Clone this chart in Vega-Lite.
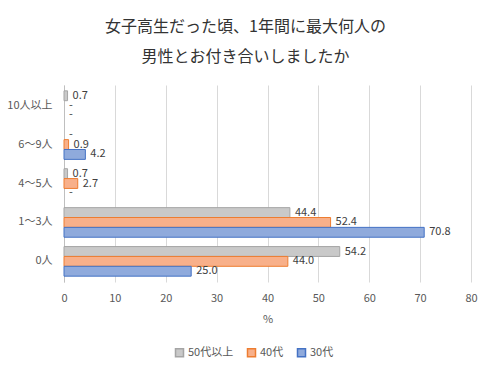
{
  "$schema": "https://vega.github.io/schema/vega-lite/v6.json",
  "width": 407,
  "height": 197,
  "autosize": {"type": "none"},
  "padding": {"left": 64, "top": 85, "right": 19, "bottom": 91},
  "background": "white",
  "title": {
    "text": ["女子高生だった頃、1年間に最大何人の", "男性とお付き合いしましたか"],
    "anchor": "middle",
    "frame": "group",
    "dx": -22,
    "fontSize": 16,
    "lineHeight": 30,
    "fontWeight": "normal",
    "font": "Noto Sans CJK JP",
    "color": "#333333",
    "offset": 20
  },
  "config": {
    "font": "Noto Sans CJK JP",
    "view": {"stroke": null},
    "axis": {"labelColor": "#595959", "titleColor": "#595959", "labelFontSize": 11, "titleFontSize": 11, "titleFontWeight": "normal"}
  },
  "data": {
    "values": [
      {"cat": "10人以上", "group": "50代以上", "value": 0.7, "pos": 0.7, "label": "0.7"},
      {"cat": "10人以上", "group": "40代", "value": null, "pos": 0, "label": "-"},
      {"cat": "10人以上", "group": "30代", "value": null, "pos": 0, "label": "-"},
      {"cat": "6～9人", "group": "50代以上", "value": null, "pos": 0, "label": "-"},
      {"cat": "6～9人", "group": "40代", "value": 0.9, "pos": 0.9, "label": "0.9"},
      {"cat": "6～9人", "group": "30代", "value": 4.2, "pos": 4.2, "label": "4.2"},
      {"cat": "4～5人", "group": "50代以上", "value": 0.7, "pos": 0.7, "label": "0.7"},
      {"cat": "4～5人", "group": "40代", "value": 2.7, "pos": 2.7, "label": "2.7"},
      {"cat": "4～5人", "group": "30代", "value": null, "pos": 0, "label": "-"},
      {"cat": "1～3人", "group": "50代以上", "value": 44.4, "pos": 44.4, "label": "44.4"},
      {"cat": "1～3人", "group": "40代", "value": 52.4, "pos": 52.4, "label": "52.4"},
      {"cat": "1～3人", "group": "30代", "value": 70.8, "pos": 70.8, "label": "70.8"},
      {"cat": "0人", "group": "50代以上", "value": 54.2, "pos": 54.2, "label": "54.2"},
      {"cat": "0人", "group": "40代", "value": 44.0, "pos": 44.0, "label": "44.0"},
      {"cat": "0人", "group": "30代", "value": 25.0, "pos": 25.0, "label": "25.0"}
    ]
  },
  "encoding": {
    "y": {
      "field": "cat",
      "type": "nominal",
      "sort": ["10人以上", "6～9人", "4～5人", "1～3人", "0人"],
      "scale": {"paddingInner": 0.24, "paddingOuter": 0.15},
      "axis": {"title": null, "ticks": false, "labelPadding": 12, "domainColor": "#bfbfbf", "labelFontSize": 11}
    },
    "yOffset": {
      "field": "group",
      "type": "nominal",
      "sort": ["50代以上", "40代", "30代"],
      "scale": {"domain": ["50代以上", "40代", "30代"]}
    }
  },
  "layer": [
    {
      "mark": {"type": "bar", "strokeWidth": 1},
      "encoding": {
        "x": {
          "field": "value",
          "type": "quantitative",
          "scale": {"domain": [0, 80], "nice": false},
          "axis": {"title": "%", "values": [0, 10, 20, 30, 40, 50, 60, 70, 80], "grid": true, "gridColor": "#d9d9d9", "domain": false, "ticks": false, "labelPadding": 10, "titlePadding": 10, "labelFlush": false}
        },
        "fill": {
          "field": "group",
          "type": "nominal",
          "scale": {"domain": ["50代以上", "40代", "30代"], "range": ["#c9c9c9", "#f8b08a", "#8faadc"]},
          "legend": {"title": null, "orient": "none", "direction": "horizontal", "legendX": 110, "legendY": 262, "symbolType": "square", "symbolSize": 64, "labelFontSize": 11, "labelColor": "#595959", "columnPadding": 10, "labelOffset": 3}
        },
        "stroke": {
          "field": "group",
          "type": "nominal",
          "scale": {"domain": ["50代以上", "40代", "30代"], "range": ["#a5a5a5", "#ed7d31", "#4472c4"]},
          "legend": {"title": null, "orient": "none", "direction": "horizontal", "legendX": 110, "legendY": 262, "symbolType": "square", "symbolSize": 64, "labelFontSize": 11, "labelColor": "#595959", "columnPadding": 10, "labelOffset": 3}
        }
      }
    },
    {
      "mark": {"type": "text", "align": "left", "baseline": "middle", "dx": 5, "fontSize": 11, "color": "#404040"},
      "encoding": {
        "x": {"field": "pos", "type": "quantitative"},
        "text": {"field": "label", "type": "nominal"}
      }
    }
  ]
}
